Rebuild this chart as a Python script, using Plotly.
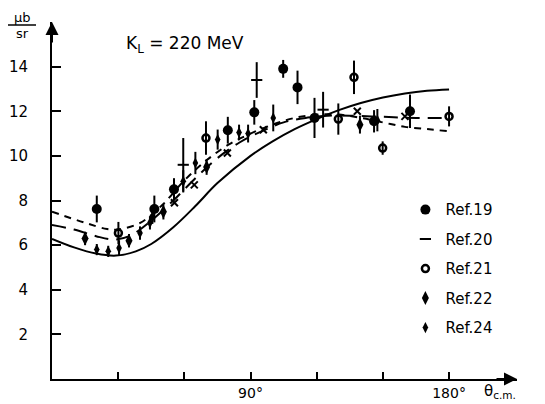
import plotly.graph_objects as go

# ---------------- data ----------------
ref19_theta = [20.3, 46.4, 55.3, 79.7, 91.7, 104.8, 111.3, 119.0, 146.0, 162.3]
ref19_val   = [7.62, 7.62, 8.5, 11.15, 11.95, 13.9, 13.07, 11.7, 11.55, 12.0]
ref19_err   = [0.6, 0.6, 0.5, 0.6, 0.55, 0.4, 0.75, 0.9, 0.5, 0.75]

ref20_theta = [59.5, 92.8, 122.9]
ref20_val   = [9.6, 13.4, 12.07]
ref20_err   = [1.2, 0.8, 0.8]

ref21_theta = [30.1, 69.8, 129.8, 136.9, 149.9, 180.0]
ref21_val   = [6.54, 10.8, 11.65, 13.52, 10.35, 11.77]
ref21_err   = [0.5, 0.75, 0.7, 0.75, 0.3, 0.45]

ref22_theta = [15.0, 34.9, 50.5, 70.1, 139.6]
ref22_val   = [6.3, 6.2, 7.5, 9.5, 11.4]
ref22_err   = [0.3, 0.3, 0.35, 0.35, 0.4]

ref24_theta = [20.3, 25.5, 30.4, 39.9, 44.4, 45.5, 59.5, 65.0, 75.1, 84.8, 88.9, 100.3, 147.5]
ref24_val   = [5.8, 5.72, 5.87, 6.54, 7.0, 7.25, 8.86, 9.68, 10.73, 11.05, 11.0, 11.7, 11.6]
ref24_err   = [0.25, 0.25, 0.35, 0.3, 0.3, 0.3, 0.5, 0.5, 0.45, 0.35, 0.4, 0.6, 0.5]

xmark_theta = [55.5, 64.5, 79.5, 95.8, 138.4, 160.0]
xmark_val   = [7.9, 8.7, 10.13, 11.17, 12.0, 11.77]

solid_theta = [0, 10, 20, 29, 38, 45, 55, 65, 75, 90, 100, 110, 120, 130, 140, 150, 160, 170, 180]
solid_val   = [6.28, 5.9, 5.62, 5.53, 5.72, 6.05, 6.8, 7.75, 8.78, 10.0, 10.65, 11.2, 11.65, 12.05, 12.37, 12.62, 12.8, 12.92, 12.98]

dashA_theta = [0, 15, 25, 30, 40, 50, 60, 70, 80, 90, 100, 110, 120, 130, 140, 150, 160, 170, 180]
dashA_val   = [7.5, 7.0, 6.72, 6.7, 7.0, 7.8, 8.9, 9.8, 10.5, 11.0, 11.4, 11.7, 11.85, 11.85, 11.7, 11.5, 11.3, 11.2, 11.1]

dashB_theta = [0, 10, 20, 28, 35, 45, 55, 65, 75, 85, 95, 105, 115, 125, 135, 150, 165, 180]
dashB_val   = [6.9, 6.7, 6.4, 6.25, 6.4, 7.1, 8.0, 9.0, 9.9, 10.6, 11.1, 11.5, 11.7, 11.8, 11.8, 11.75, 11.7, 11.7]

y_ticks = [2, 4, 6, 8, 10, 12, 14]
x_ticks = [30, 60, 90, 120, 150, 180]
x_ticktext = ["", "", "90°", "", "", "180°"]

FONT = "DejaVu Sans"
BLACK = "black"

# page body has an 8px default margin; compensate so the plot lands where intended
OFF = 8
W, H = 545 - OFF, 404 - OFF
ML, MT, MR, MB = 52 - OFF, 22 - OFF, 28, 25
pw, ph = W - ML - MR, H - MT - MB

def px(X):  # page pixel -> paper x
    return (X - 52) / pw

def py(Y):  # page pixel -> paper y
    return (379 - Y) / ph

fig = go.Figure()

# curves
fig.add_trace(go.Scatter(x=solid_theta, y=solid_val, mode="lines", line=dict(color=BLACK, width=2, shape="spline"), showlegend=False))
fig.add_trace(go.Scatter(x=dashA_theta, y=dashA_val, mode="lines", line=dict(color=BLACK, width=2, dash="7px,6px", shape="spline"), showlegend=False))
fig.add_trace(go.Scatter(x=dashB_theta, y=dashB_val, mode="lines", line=dict(color=BLACK, width=2, dash="14px,8px", shape="spline"), showlegend=False))

def data_trace(name, xs, ys, errs, symbol, size, lw=0):
    return go.Scatter(
        x=xs, y=ys, mode="markers", name=name, legendgroup=name,
        marker=dict(symbol=symbol, size=size, color=BLACK, line=dict(color=BLACK, width=lw)),
        error_y=dict(type="data", array=errs, visible=True, color=BLACK, thickness=2, width=0),
    )

fig.add_trace(data_trace("Ref.19", ref19_theta, ref19_val, ref19_err, "circle", 10))
fig.add_trace(data_trace("Ref.20", ref20_theta, ref20_val, ref20_err, "line-ew", 8, lw=2))
fig.add_trace(data_trace("Ref.21", ref21_theta, ref21_val, ref21_err, "circle-open", 7, lw=2.5))
fig.add_trace(data_trace("Ref.22", ref22_theta, ref22_val, ref22_err, "diamond-tall", 10))
fig.add_trace(data_trace("Ref.24", ref24_theta, ref24_val, ref24_err, "diamond-tall", 8))
fig.add_trace(go.Scatter(x=xmark_theta, y=xmark_val, mode="markers", showlegend=False,
                         marker=dict(symbol="x-thin", size=7, line=dict(color=BLACK, width=2))))

fig.update_layout(
    width=W, height=H,
    margin=dict(l=ML, r=MR, t=MT, b=MB, pad=0, autoexpand=False),
    paper_bgcolor="white", plot_bgcolor="white",
    font=dict(family=FONT, size=14, color=BLACK),
    showlegend=True,
    legend=dict(x=0.76, y=0.52, xanchor="left", yanchor="top", bgcolor="rgba(0,0,0,0)",
                font=dict(family=FONT, size=15, color=BLACK), tracegroupgap=7,
                itemwidth=30),
    xaxis=dict(range=[0, 210.8], showline=True, linecolor=BLACK, linewidth=2, showgrid=False, zeroline=False,
               automargin=False,
               tickmode="array", tickvals=x_ticks, ticktext=x_ticktext, ticks="inside", ticklen=7,
               tickwidth=1.5, tickcolor=BLACK, tickfont=dict(family=FONT, size=14, color=BLACK)),
    yaxis=dict(range=[0, 16], showline=True, linecolor=BLACK, linewidth=2, showgrid=False, zeroline=False,
               automargin=False,
               tickmode="array", tickvals=y_ticks, ticks="inside", ticklen=9, tickwidth=1.5,
               tickcolor=BLACK, ticklabelstandoff=19, tickfont=dict(family=FONT, size=15, color=BLACK)),
)

# axis arrowheads
fig.add_annotation(x=0, y=16, xref="x", yref="y", ax=0, ay=22, text="", showarrow=True,
                   arrowhead=2, arrowsize=1.3, arrowwidth=2, arrowcolor=BLACK)
fig.add_annotation(x=210.8, y=0, xref="x", yref="y", ax=-22, ay=0, text="", showarrow=True,
                   arrowhead=2, arrowsize=1.3, arrowwidth=2, arrowcolor=BLACK)

# titles / labels (placed by page pixel)
fig.add_annotation(x=px(124), y=py(44), xref="paper", yref="paper", text="K<sub>L</sub> = 220 MeV",
                   showarrow=False, xanchor="left", yanchor="middle", font=dict(family=FONT, size=17, color=BLACK))
fig.add_annotation(x=px(482), y=py(391), xref="paper", yref="paper", text="θ<sub>c.m.</sub>",
                   showarrow=False, xanchor="left", yanchor="middle", font=dict(family=FONT, size=15, color=BLACK))
fig.add_annotation(x=px(22), y=py(17), xref="paper", yref="paper", text="μb",
                   showarrow=False, xanchor="center", yanchor="middle", font=dict(family=FONT, size=13, color=BLACK))
fig.add_annotation(x=px(22), y=py(33), xref="paper", yref="paper", text="sr",
                   showarrow=False, xanchor="center", yanchor="middle", font=dict(family=FONT, size=13, color=BLACK))

fig.add_shape(type="line", xref="paper", yref="paper",
              x0=px(8), x1=px(36), y0=py(25), y1=py(25),
              line=dict(color=BLACK, width=1.5))

fig.write_html("out.html")
